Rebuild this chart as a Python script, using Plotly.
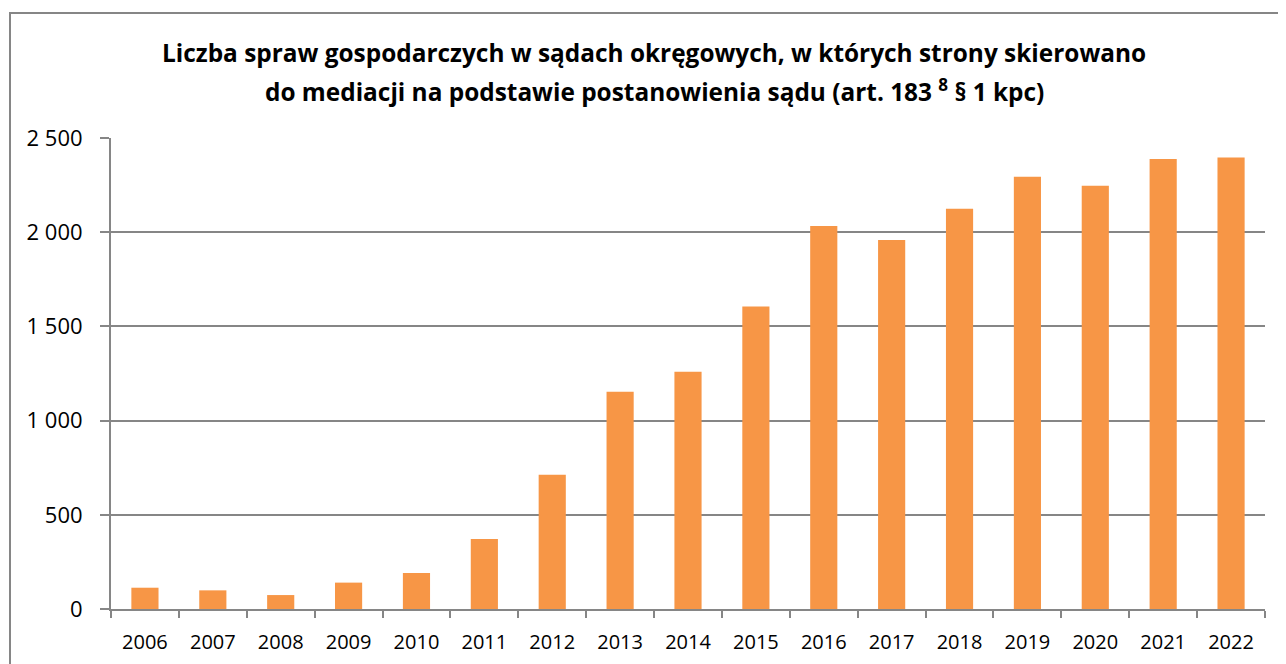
import plotly.graph_objects as go

years = [str(y) for y in range(2006, 2023)]
cases = [113, 99, 74, 140, 191, 371, 713, 1153, 1259, 1605, 2033, 1959, 2124, 2294, 2246, 2388, 2397]
y_ticks = [0, 500, 1000, 1500, 2000, 2500]

title_line1 = "<b>Liczba spraw gospodarczych w sądach okręgowych, w których strony skierowano</b>"
title_line2 = "<b>do mediacji na podstawie postanowienia sądu (art. 183 <sup>8</sup> § 1 kpc)</b>"

# page body has an 8px margin, so the figure is sized to fit the window
W, H = 1278, 656
L, R, T, B = 103, 21, 130, 55

fig = go.Figure(go.Bar(
    x=years, y=cases, marker=dict(color="#F79646", line=dict(width=0)),
    hoverinfo="x+y",
))

fig.update_layout(
    width=W, height=H,
    margin=dict(l=L, r=R, t=T, b=B),
    paper_bgcolor="white", plot_bgcolor="white",
    separators=". ",
    bargap=0.6,
    showlegend=False,
    font=dict(family="Open Sans, sans-serif", color="black"),
    xaxis=dict(type="category", showline=True, linecolor="#868686", linewidth=2,
               ticks="outside", tickson="boundaries", ticklen=7, tickwidth=2, tickcolor="#868686",
               tickfont=dict(size=20), showgrid=False, ticklabelstandoff=14, automargin=False),
    yaxis=dict(range=[0, 2500], tickvals=y_ticks, tickformat=",d",
               showline=True, linecolor="#868686", linewidth=2,
               ticks="outside", ticklen=9, tickwidth=2, tickcolor="#868686",
               showgrid=True, gridcolor="#868686", gridwidth=2,
               tickfont=dict(size=22), zeroline=False, ticklabelstandoff=13, automargin=False),
)

pw = W - L - R
ph = H - T - B
for txt, fy in [(title_line1, 44), (title_line2, 82)]:
    fig.add_annotation(text=txt, xref="paper", yref="paper",
                       x=(646 - L) / pw, y=(H - B - fy) / ph,
                       xanchor="center", yanchor="middle", showarrow=False,
                       font=dict(size=24.4, family="Open Sans, sans-serif", color="black"))

fig.add_shape(type="rect", xref="paper", yref="paper",
              x0=(2 - L) / pw, x1=(W + 30 - L) / pw,
              y0=-(B + 30) / ph, y1=(H - B - 5) / ph,
              line=dict(color="#868686", width=2), fillcolor="rgba(0,0,0,0)", layer="below")

fig.write_html("out.html")
